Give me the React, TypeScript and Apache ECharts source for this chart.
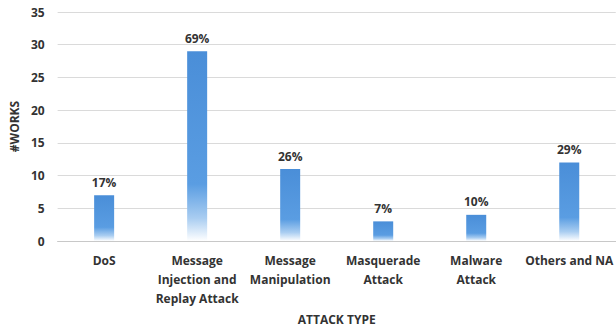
import React, { useEffect, useRef } from "react";
import * as echarts from "echarts";

const categories = [
  "DoS",
  "Message\nInjection and\nReplay Attack",
  "Message\nManipulation",
  "Masquerade\nAttack",
  "Malware\nAttack",
  "Others and NA",
];
const works = [7, 29, 11, 3, 4, 12];
const shares = ["17%", "69%", "26%", "7%", "10%", "29%"];
const yTicks = { min: 0, max: 35, interval: 5 };

const FONT = "'Open Sans', 'Noto Sans', sans-serif";
const TEXT = "#333333";

export default function App() {
  const ref = useRef<HTMLDivElement>(null);

  useEffect(() => {
    if (!ref.current) return;
    const chart = echarts.init(ref.current, undefined, { renderer: "svg" });
    const barFill = new echarts.graphic.LinearGradient(0, 0, 0, 1, [
      { offset: 0, color: "#4a8ed8" },
      { offset: 0.7, color: "#5a9de2" },
      { offset: 0.88, color: "#a9cdf1" },
      { offset: 1, color: "#ffffff" },
    ]);
    chart.setOption({
      animation: false,
      backgroundColor: "#ffffff",
      textStyle: { fontFamily: FONT },
      grid: { left: 56, right: -2, top: 12, bottom: 90, containLabel: false },
      xAxis: {
        type: "category",
        data: categories,
        name: "ATTACK TYPE",
        nameLocation: "middle",
        nameGap: 72,
        nameTextStyle: { color: TEXT, fontSize: 12, fontWeight: "bold", fontFamily: FONT },
        axisLine: { lineStyle: { color: "#c8c8c8", width: 1 } },
        axisTick: { show: false },
        axisLabel: {
          interval: 0,
          margin: 10,
          color: TEXT,
          fontSize: 12,
          fontWeight: "bold",
          lineHeight: 19,
          fontFamily: FONT,
        },
      },
      yAxis: {
        type: "value",
        min: yTicks.min,
        max: yTicks.max,
        interval: yTicks.interval,
        name: "#WORKS",
        nameLocation: "middle",
        nameGap: 37,
        nameTextStyle: { color: TEXT, fontSize: 12, fontWeight: "bold", fontFamily: FONT },
        axisLine: { show: false },
        axisTick: { show: false },
        axisLabel: { color: TEXT, fontSize: 12, fontWeight: "bold", margin: 13, fontFamily: FONT },
        splitLine: { lineStyle: { color: "#dadada", width: 1 } },
      },
      series: [
        {
          type: "bar",
          data: works,
          barWidth: 20,
          itemStyle: { color: barFill },
          label: {
            show: true,
            position: "top",
            distance: 7,
            color: TEXT,
            fontSize: 12,
            fontWeight: "bold",
            fontFamily: FONT,
            formatter: (p: { dataIndex: number }) => shares[p.dataIndex],
          },
        },
      ],
    });
    return () => chart.dispose();
  }, []);

  return (
    <div
      ref={ref}
      style={{ position: "fixed", left: 0, top: 0, width: 616, height: 331 }}
    />
  );
}
